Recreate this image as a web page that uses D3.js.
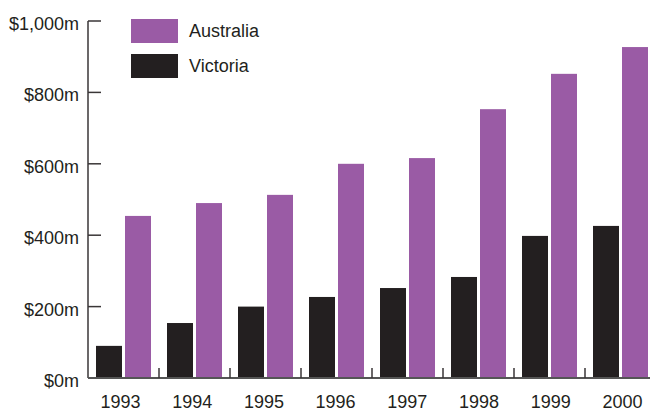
<!DOCTYPE html>
<html>
<head>
<meta charset="utf-8">
<script src="https://cdn.jsdelivr.net/npm/d3@7"></script>
<style>
  html, body { margin: 0; padding: 0; background: #fff; }
  svg { display: block; font-family: "Liberation Sans", Arial, sans-serif; }
</style>
</head>
<body>
<div id="chart"></div>
<script>
// data
const years = ['1993', '1994', '1995', '1996', '1997', '1998', '1999', '2000'];
const seriesNames = ['Victoria', 'Australia'];
const victoria = [90, 154, 200, 227, 252, 283, 398, 426];
const australia = [454, 490, 513, 600, 616, 753, 852, 927];
const yTicks = [0, 200, 400, 600, 800, 1000];

const width = 650;
const height = 412;
const colors = {Victoria: '#231f20', Australia: '#9a5ba5'};
const ink = '#231f20';

const rows = years.map((y, i) => ({
  year: y,
  values: [
    {key: 'Victoria', value: victoria[i]},
    {key: 'Australia', value: australia[i]}
  ]
}));

const x = d3.scaleBand().domain(years).range([88, 88 + 71 * years.length]);
const xInner = d3.scaleBand()
    .domain(seriesNames)
    .range([8, 63])
    .paddingInner(3 / 29);
const y = d3.scaleLinear().domain([0, 1000]).range([378, 21]);

const svg = d3.select('#chart')
    .append('svg')
    .attr('width', width)
    .attr('height', height)
    .attr('viewBox', [0, 0, width, height]);

// bars
svg.append('g')
    .selectAll('g')
    .data(rows)
    .join('g')
    .attr('transform', (d) => `translate(${x(d.year)},0)`)
    .selectAll('rect')
    .data((d) => d.values)
    .join('rect')
    .attr('x', (d) => xInner(d.key))
    .attr('width', xInner.bandwidth())
    .attr('y', (d) => y(d.value))
    .attr('height', (d) => y(0) - y(d.value))
    .attr('fill', (d) => colors[d.key]);

// y axis
const yAxis = svg.append('g');
yAxis.append('line')
    .attr('x1', 88).attr('x2', 88)
    .attr('y1', y(1000)).attr('y2', y(0))
    .attr('stroke', '#3a3637')
    .attr('stroke-width', 1.5);
yAxis.selectAll('.tick')
    .data(yTicks)
    .join('line')
    .attr('x1', 88).attr('x2', 101)
    .attr('y1', (d) => y(d)).attr('y2', (d) => y(d))
    .attr('stroke', '#3a3637')
    .attr('stroke-width', 1.5);
yAxis.selectAll('text')
    .data(yTicks)
    .join('text')
    .attr('x', 79)
    .attr('y', (d) => y(d) + 9)
    .attr('text-anchor', 'end')
    .attr('font-size', 18)
    .attr('fill', ink)
    .text((d) => '$' + d3.format(',')(d) + 'm');

// x axis
const xAxis = svg.append('g');
xAxis.append('line')
    .attr('x1', 88).attr('x2', width)
    .attr('y1', y(0)).attr('y2', y(0))
    .attr('stroke', '#555')
    .attr('stroke-width', 2);
xAxis.selectAll('.tick')
    .data(years.slice(1))
    .join('line')
    .attr('x1', (d) => x(d)).attr('x2', (d) => x(d))
    .attr('y1', y(0) - 10).attr('y2', y(0))
    .attr('stroke', '#3a3637')
    .attr('stroke-width', 1.5);
xAxis.selectAll('text')
    .data(years)
    .join('text')
    .attr('x', (d, i) => x(d) + x.bandwidth() / 2 - 3 + i * 0.7)
    .attr('y', 408)
    .attr('text-anchor', 'middle')
    .attr('font-size', 18)
    .attr('fill', ink)
    .text((d) => d);

// legend
const legend = svg.append('g')
    .selectAll('g')
    .data(['Australia', 'Victoria'])
    .join('g')
    .attr('transform', (d, i) => `translate(131,${19 + i * 35})`);
legend.append('rect')
    .attr('width', 47)
    .attr('height', 24)
    .attr('fill', (d) => colors[d]);
legend.append('text')
    .attr('x', 58)
    .attr('y', 18)
    .attr('font-size', 18)
    .attr('fill', ink)
    .text((d) => d);
</script>
</body>
</html>
